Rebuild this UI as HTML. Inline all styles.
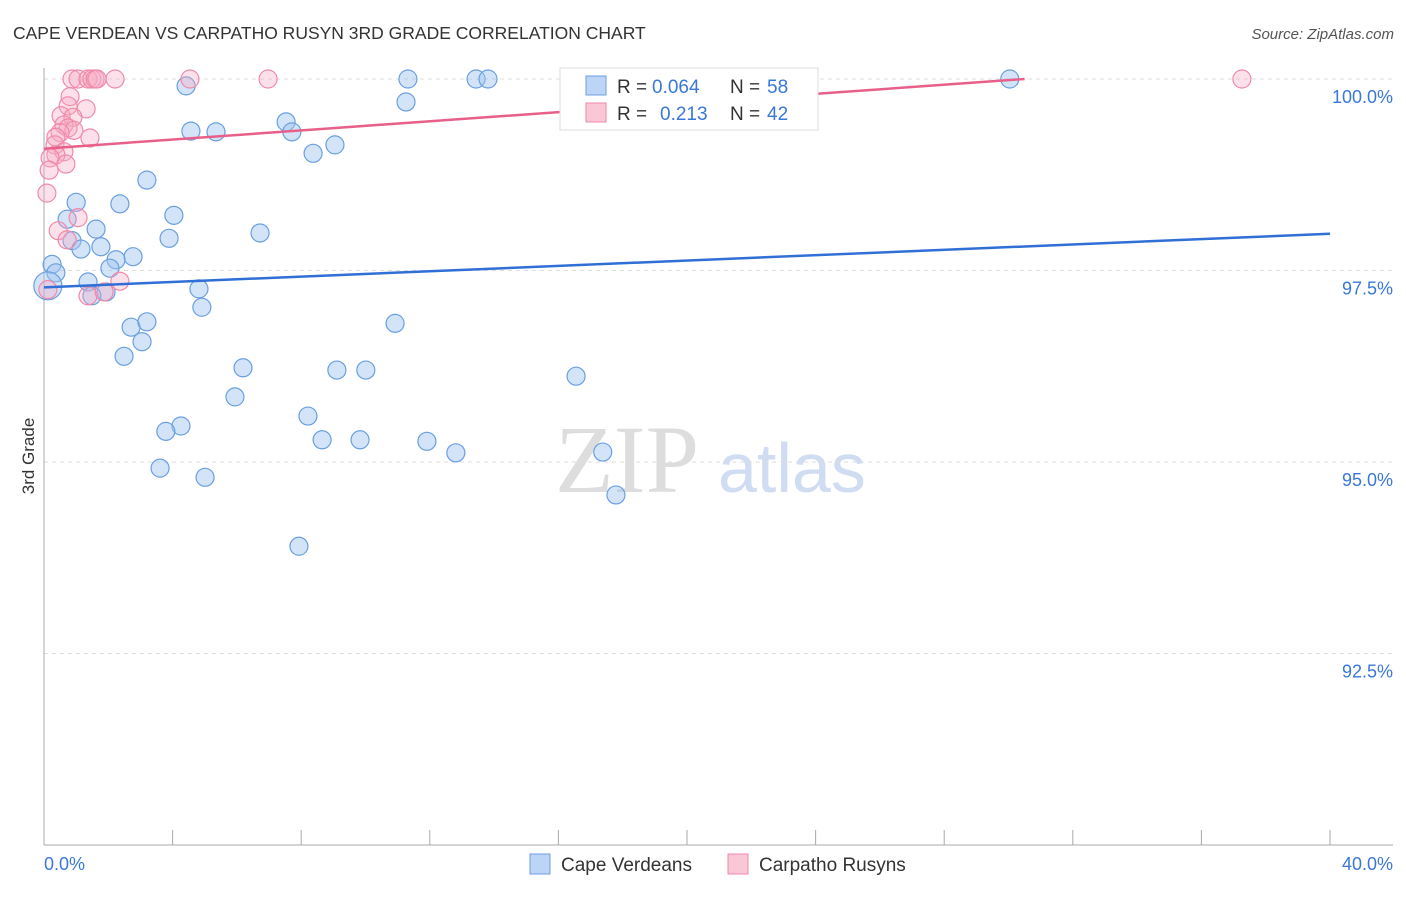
<!DOCTYPE html>
<html><head><meta charset="utf-8"><style>
body{margin:0;background:#fff;font-family:"Liberation Sans",sans-serif}
</style></head><body>
<svg id="chart" width="1406" height="892" xmlns="http://www.w3.org/2000/svg" font-family="Liberation Sans, sans-serif">
<text x="13" y="39" font-size="17.5" fill="#333">CAPE VERDEAN VS CARPATHO RUSYN 3RD GRADE CORRELATION CHART</text>
<text x="1394" y="39" font-size="15" fill="#555" text-anchor="end" font-style="italic">Source: ZipAtlas.com</text>
<text transform="translate(34,456) rotate(-90)" font-size="17" fill="#333" text-anchor="middle">3rd Grade</text>
<g><text x="555" y="492" font-size="96" fill="#ddd" font-family="Liberation Serif, serif">ZIP</text><text x="718" y="492" font-size="70" fill="#cfdcf2">atlas</text></g>
<g id="grid"></g><g id="pts"></g><g id="lines"></g>
<g>
<rect x="560" y="68" width="258" height="62" fill="#fff" stroke="#ddd"/>
<rect x="586" y="76" width="20" height="19" fill="#bcd4f5" stroke="#6a9fe0"/>
<rect x="586" y="103" width="20" height="19" fill="#f9c7d6" stroke="#f08aaa"/>
<text x="617" y="93" font-size="19" fill="#333">R =</text>
<text x="652" y="93" font-size="19" fill="#3a78d8">0.064</text>
<text x="730" y="93" font-size="19" fill="#333">N =</text>
<text x="767" y="93" font-size="19" fill="#3a78d8">58</text>
<text x="617" y="120" font-size="19" fill="#333">R =</text>
<text x="660" y="120" font-size="19" fill="#3a78d8">0.213</text>
<text x="730" y="120" font-size="19" fill="#333">N =</text>
<text x="767" y="120" font-size="19" fill="#3a78d8">42</text>
</g>
<g>
<rect x="530" y="854" width="20" height="20" fill="#bcd4f5" stroke="#6a9fe0"/>
<text x="561" y="871" font-size="19" fill="#333">Cape Verdeans</text>
<rect x="728" y="854" width="20" height="20" fill="#f9c7d6" stroke="#f08aaa"/>
<text x="759" y="871" font-size="19" fill="#333">Carpatho Rusyns</text>
</g>
</svg>
<script>
const yTicks=[100,97.5,95,92.5];
const yTickLabels=["100.0%","97.5%","95.0%","92.5%"];
const xLabels=["0.0%","40.0%"];
const blueX=[4.42,11.32,13.44,13.81,21.89,30.04,11.26,4.57,5.35,7.53,7.71,8.37,9.05,3.20,1.00,2.36,4.04,0.72,1.62,6.72,0.87,1.77,1.15,3.89,2.77,2.24,0.25,0.37,2.05,1.37,4.82,0.12,1.93,1.49,4.91,2.71,3.20,3.05,2.49,10.92,6.19,9.11,10.01,16.55,5.94,8.21,4.26,3.79,8.65,9.83,11.91,12.81,17.38,3.61,5.01,17.79,7.93];
const blueY=[99.91,100,100,100,100,100,99.70,99.32,99.31,99.44,99.31,99.03,99.14,98.68,98.39,98.37,98.22,98.17,98.04,97.99,97.89,97.81,97.78,97.92,97.68,97.64,97.58,97.47,97.53,97.35,97.26,97.30,97.22,97.17,97.02,96.76,96.83,96.57,96.38,96.81,96.23,96.20,96.20,96.12,95.85,95.60,95.47,95.40,95.29,95.29,95.27,95.12,95.13,94.92,94.80,94.57,93.90];
const pinkX=[0.87,1.06,1.37,1.49,1.59,1.65,2.21,4.54,6.97,37.26,0.81,0.75,1.31,0.53,0.90,0.62,0.75,0.93,0.50,1.43,0.37,0.34,0.62,0.37,0.19,0.68,0.16,0.09,1.06,0.44,0.72,1.37,1.87,2.36,0.12];
const pinkY=[100,100,100,100,100,100,100,100,100,100,99.77,99.65,99.61,99.52,99.50,99.40,99.36,99.33,99.30,99.23,99.24,99.14,99.05,99.01,98.97,98.89,98.81,98.51,98.19,98.02,97.90,97.17,97.22,97.36,97.25];
const blueTrend=[[0,97.28],[40,97.98]];
const pinkTrend=[[0,99.09],[30.5,100]];
const X=v=>44+v/40*1286, Y=v=>79+(100-v)/2.5*191.5;
const NS="http://www.w3.org/2000/svg";
function mk(t,a,p){const e=document.createElementNS(NS,t);for(const k in a)e.setAttribute(k,a[k]);p.appendChild(e);return e;}
const g=document.getElementById('grid');
yTicks.forEach((t,i)=>{
 const l=mk('line',{x1:44,x2:1393,y1:Y(t),y2:Y(t),stroke:'#ddd','stroke-dasharray':'4,4'},g);
 
 
 const tx=mk('text',{x:1393,y:Y(t)+24,'font-size':18,fill:'#3a78d8','text-anchor':'end'},g);tx.textContent=yTickLabels[i];
 
 
});
const ax=mk('line',{x1:44,x2:44,y1:68,y2:845,stroke:'#aaa'},g);


const bx=mk('line',{x1:44,x2:1393,y1:845,y2:845,stroke:'#aaa'},g);


for(let i=0;i<=10;i++){const t=mk('line',{x1:X(i*4),x2:X(i*4),y1:830,y2:845,stroke:'#aaa'},g);
 
 }
[[0,'start',44],[40,'end',1393]].forEach((d,i)=>{const t=mk('text',{x:d[2],y:870,'font-size':18,fill:'#3a78d8','text-anchor':d[1]},g);t.textContent=xLabels[i];
 
 });
const p=document.getElementById('pts');
blueX.forEach((x,i)=>{const c=mk('circle',{cx:X(x),cy:Y(blueY[i]),r:i==31?14:9,fill:'rgba(160,195,240,0.45)',stroke:'#6a9fe0','stroke-width':1.2},p);
 
 });
pinkX.forEach((x,i)=>{const c=mk('circle',{cx:X(x),cy:Y(pinkY[i]),r:9,fill:'rgba(245,170,195,0.35)',stroke:'#f08aaa','stroke-width':1.2},p);
 
 });
const L=document.getElementById('lines');
const b=mk('line',{x1:X(blueTrend[0][0]),y1:Y(blueTrend[0][1]),x2:X(blueTrend[1][0]),y2:Y(blueTrend[1][1]),stroke:'#2f6fd6','stroke-width':2.5},L);


const pk=mk('line',{x1:X(pinkTrend[0][0]),y1:Y(pinkTrend[0][1]),x2:X(pinkTrend[1][0]),y2:Y(pinkTrend[1][1]),stroke:'#e8608a','stroke-width':2.5},L);


</script>
</body></html>
